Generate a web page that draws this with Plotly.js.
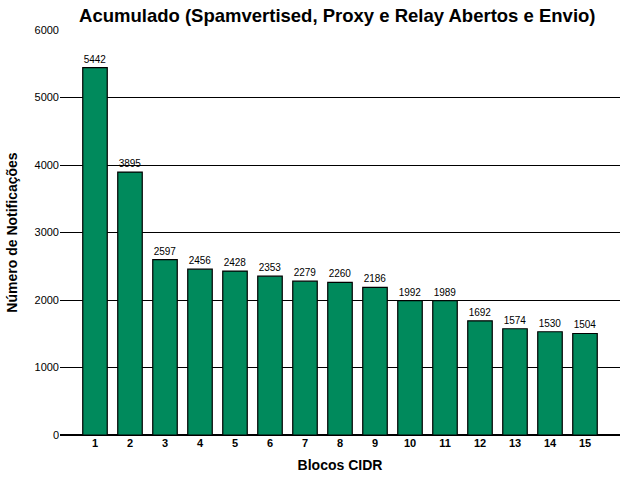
<!DOCTYPE html>
<html>
<head>
<meta charset="utf-8">
<script src="https://cdn.plot.ly/plotly-3.0.1.min.js"></script>
<style>
  html, body { margin: 0; padding: 0; background: #fff; }
  #chart { width: 640px; height: 480px; }
</style>
</head>
<body>
<div id="chart"></div>
<script>
// Notificações acumuladas por bloco CIDR
const blocos = [1, 2, 3, 4, 5, 6, 7, 8, 9, 10, 11, 12, 13, 14, 15];
const notificacoes = [5442, 3895, 2597, 2456, 2428, 2353, 2279, 2260, 2186, 1992, 1989, 1692, 1574, 1530, 1504];
const yTicks = [0, 1000, 2000, 3000, 4000, 5000, 6000];

const layout = {
    width: 640,
    height: 480,
    paper_bgcolor: '#ffffff',
    plot_bgcolor: '#ffffff',
    font: { family: 'Liberation Sans, Arial, sans-serif', color: '#000', size: 11 },
    margin: { t: 30, b: 45, l: 60, r: 20 },
    showlegend: false,
    bargap: 0.3,
    title: {
        text: '<b>Acumulado (Spamvertised, Proxy e Relay Abertos e Envio)</b>',
        font: { size: 18.5 },
        x: 0.527, xanchor: 'center',
        y: 0.968, yanchor: 'middle',
    },
    xaxis: {
        range: [0, 16],
        tickvals: blocos,
        ticktext: blocos.map(b => '<b>' + b + '</b>'),
        tickfont: { size: 11 },
        showgrid: false,
        zeroline: false,
        showline: false,
        ticks: '',
        title: { text: '<b>Blocos CIDR</b>', font: { size: 14 }, standoff: 12 },
    },
    yaxis: {
        range: [0, 6000],
        tickvals: yTicks,
        tickfont: { size: 11 },
        showgrid: true,
        gridcolor: '#000',
        gridwidth: 1,
        zeroline: true,
        zerolinecolor: '#000',
        zerolinewidth: 1.5,
        showline: false,
        ticks: '',
        ticklen: 0,
        title: { text: '<b>Número de Notificações</b>', font: { size: 14 }, standoff: 13 },
    },
};

Plotly.newPlot('chart', [{
    type: 'bar',
    x: blocos,
    y: notificacoes,
    width: 0.7,
    marker: { color: '#008a5c', line: { color: '#000', width: 1.2 } },
    text: notificacoes.map(String),
    textposition: 'outside',
    textfont: { size: 10, color: '#000' },
    cliponaxis: false,
    hoverinfo: 'none',
}], layout, { displayModeBar: false, staticPlot: true });
</script>
</body>
</html>
